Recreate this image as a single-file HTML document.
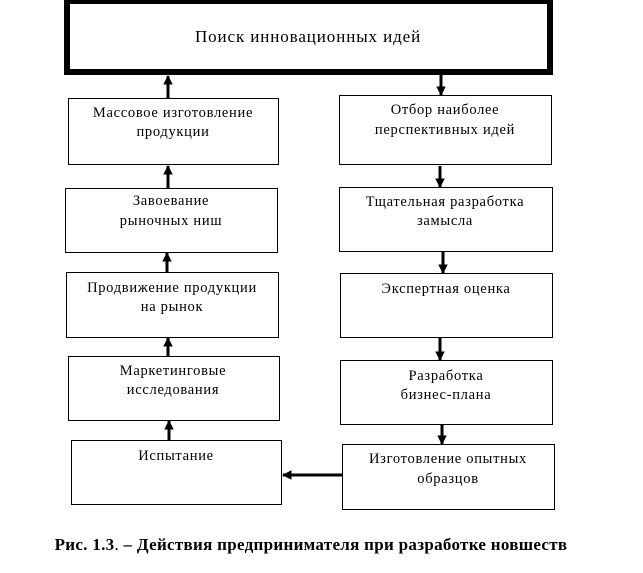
<!DOCTYPE html>
<html><head><meta charset="utf-8"><style>
html,body{margin:0;padding:0;background:#fff;}
svg{display:block;}
text{font-family:"Liberation Serif","DejaVu Serif",serif;font-size:14.5px;letter-spacing:0.7px;fill:#000;}
</style></head><body>
<svg width="643" height="573" viewBox="0 0 643 573" xmlns="http://www.w3.org/2000/svg">
<defs>
<marker id="a" viewBox="0 0 10 10" refX="9" refY="5" markerWidth="3.2" markerHeight="3.2" orient="auto"><path d="M0,0 L10,5 L0,10 z" fill="#000"/></marker>
</defs>
<rect x="67" y="1" width="483" height="71" fill="none" stroke="#000" stroke-width="6"/>
<text x="308" y="42" text-anchor="middle" style="font-size:17px;letter-spacing:0.9px">Поиск инновационных идей</text>
<g fill="none" stroke="#000" stroke-width="1">
<rect x="68.5" y="98.5" width="210" height="66"/>
<rect x="65.5" y="188.5" width="212" height="64"/>
<rect x="66.5" y="272.5" width="212" height="65"/>
<rect x="68.5" y="356.5" width="211" height="64"/>
<rect x="71.5" y="440.5" width="210" height="64"/>
<rect x="339.5" y="95.5" width="212" height="69"/>
<rect x="339.5" y="187.5" width="213" height="64"/>
<rect x="340.5" y="273.5" width="212" height="64"/>
<rect x="340.5" y="360.5" width="212" height="64"/>
<rect x="342.5" y="444.5" width="212" height="65"/>
</g>
<g stroke="#000" stroke-width="3" marker-end="url(#a)">
<line x1="168" y1="98" x2="168" y2="76"/>
<line x1="168" y1="188" x2="168" y2="166"/>
<line x1="167" y1="272" x2="167" y2="253"/>
<line x1="168" y1="356" x2="168" y2="338"/>
<line x1="169" y1="440" x2="169" y2="421"/>
<line x1="441" y1="74" x2="441" y2="95"/>
<line x1="440" y1="166" x2="440" y2="187"/>
<line x1="443" y1="252" x2="443" y2="273"/>
<line x1="440" y1="338" x2="440" y2="360"/>
<line x1="442" y1="425" x2="442" y2="444"/>
<line x1="342" y1="475" x2="283" y2="475"/>
</g>
<g text-anchor="middle">
<text x="173" y="117">Массовое изготовление</text>
<text x="173" y="136">продукции</text>
<text x="171" y="205">Завоевание</text>
<text x="171" y="225">рыночных ниш</text>
<text x="172" y="292">Продвижение  продукции</text>
<text x="172" y="311">на рынок</text>
<text x="173" y="375">Маркетинговые</text>
<text x="173" y="394">исследования</text>
<text x="176" y="460">Испытание</text>
<text x="445" y="114">Отбор наиболее</text>
<text x="445" y="134">перспективных  идей</text>
<text x="445" y="206">Тщательная разработка</text>
<text x="445" y="225">замысла</text>
<text x="446" y="293">Экспертная оценка</text>
<text x="446" y="380">Разработка</text>
<text x="446" y="399">бизнес-плана</text>
<text x="448" y="463">Изготовление опытных</text>
<text x="448" y="483">образцов</text>
</g>
<text x="311" y="550" text-anchor="middle" style="font-size:17px;letter-spacing:0.3px;font-weight:bold">Рис. 1.3<tspan font-weight="normal">.</tspan> – Действия предпринимателя при разработке новшеств</text>
</svg>
</body></html>
